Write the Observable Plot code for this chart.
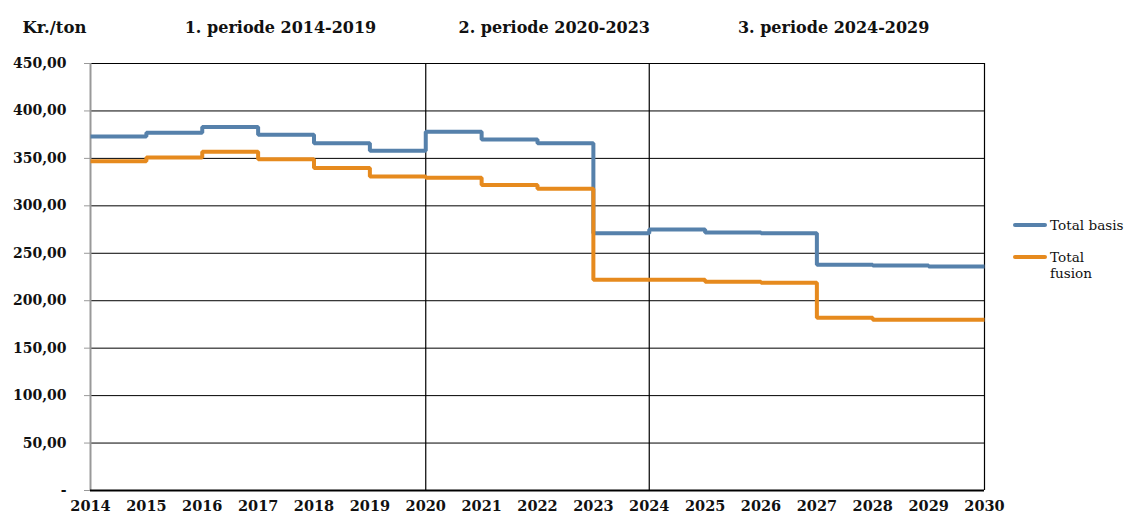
<!DOCTYPE html>
<html><head><meta charset="utf-8">
<script src="https://cdn.jsdelivr.net/npm/d3@7"></script>
<script src="https://cdn.jsdelivr.net/npm/@observablehq/plot@0.6"></script>
<style>
body{margin:0;background:#fff;}
#wrap{position:relative;width:1128px;height:516px;font-family:"DejaVu Serif",serif;color:#111;}
.sw{position:absolute;left:1013px;width:34px;height:4px;border-radius:2px;}
.lt{position:absolute;left:1050px;font-size:13.6px;line-height:16px;white-space:nowrap;}
</style></head>
<body><div id="wrap"></div>
<script>
const years = [2014,2015,2016,2017,2018,2019,2020,2021,2022,2023,2024,2025,2026,2027,2028,2029,2030];
const basis  = [373,377,383,375,366,358,378,370,366,271,275,272,271,238,237,236,236];
const fusion = [347,351,357,349,340,331,329.5,322,318,222,222,220,219,182,180,180,180];
const seriesNames = ["Total basis","Total fusion"];
const seriesColors = ["#5681ab","#e68a1e"];
const yTicks = [0,50,100,150,200,250,300,350,400,450];
const periodLabels = ["1. periode 2014-2019","2. periode 2020-2023","3. periode 2024-2029"];
const periodCenters = [2017.4, 2022.3, 2027.3];
const periodDividers = [2020, 2024, 2030];
const unitLabel = "Kr./ton";

const rows = [];
years.forEach((yr,i)=>{
  rows.push({year:yr, value:basis[i], series:seriesNames[0]});
  rows.push({year:yr, value:fusion[i], series:seriesNames[1]});
});
const fmt = d => d === 0 ? "-" : d.toFixed(2).replace(".", ",");

const chart = Plot.plot({
  width:1128, height:516,
  marginTop:63, marginBottom:26, marginLeft:90, marginRight:144,
  style:{fontFamily:"DejaVu Serif, serif", fontSize:"14px", fontWeight:"bold", color:"#111", background:"white"},
  x:{domain:[2014,2030], label:null},
  y:{domain:[0,450], label:null},
  color:{domain:seriesNames, range:seriesColors},
  marks:[
    Plot.ruleY(yTicks.slice(1), {stroke:"#000", strokeWidth:1}),
    Plot.ruleX(periodDividers, {stroke:"#000", strokeWidth:1.2}),
    Plot.ruleX([2014], {stroke:"#999", strokeWidth:2}),
    Plot.ruleY([0], {stroke:"#000", strokeWidth:2}),
    Plot.axisY({ticks:yTicks, tickSize:6, tickPadding:18, tickFormat:fmt, stroke:"#999", fill:"#111", fontWeight:"bold", fontSize:14}),
    Plot.axisX({ticks:years, tickSize:0, tickPadding:10, tickFormat:d=>String(d), fill:"#111", fontWeight:"bold", fontSize:14.5}),
    Plot.line(rows, {x:"year", y:"value", z:"series", stroke:"series", curve:"step-after", strokeWidth:4, strokeLinejoin:"miter", strokeLinecap:"butt"}),
    Plot.text(periodLabels, {x:(d,i)=>periodCenters[i], text:d=>d, frameAnchor:"top", dy:-42, fontSize:16, fontWeight:"bold", fill:"#111"}),
    Plot.text([unitLabel], {frameAnchor:"top-left", text:d=>d, dx:-68, dy:-42, textAnchor:"start", fontSize:16.5, fontWeight:"bold", fill:"#111"})
  ]
});
const wrap = document.getElementById("wrap");
wrap.appendChild(chart);

// legend
const legendY = [225, 257];
seriesNames.forEach((name,i)=>{
  const sw = document.createElement("div");
  sw.className = "sw";
  sw.style.top = (legendY[i]-2) + "px";
  sw.style.background = seriesColors[i];
  wrap.appendChild(sw);
  const t = document.createElement("div");
  t.className = "lt";
  t.style.top = (legendY[i]-8) + "px";
  t.innerHTML = i === 0 ? name : name.replace(" ", "<br>");
  wrap.appendChild(t);
});
</script>
</body></html>
